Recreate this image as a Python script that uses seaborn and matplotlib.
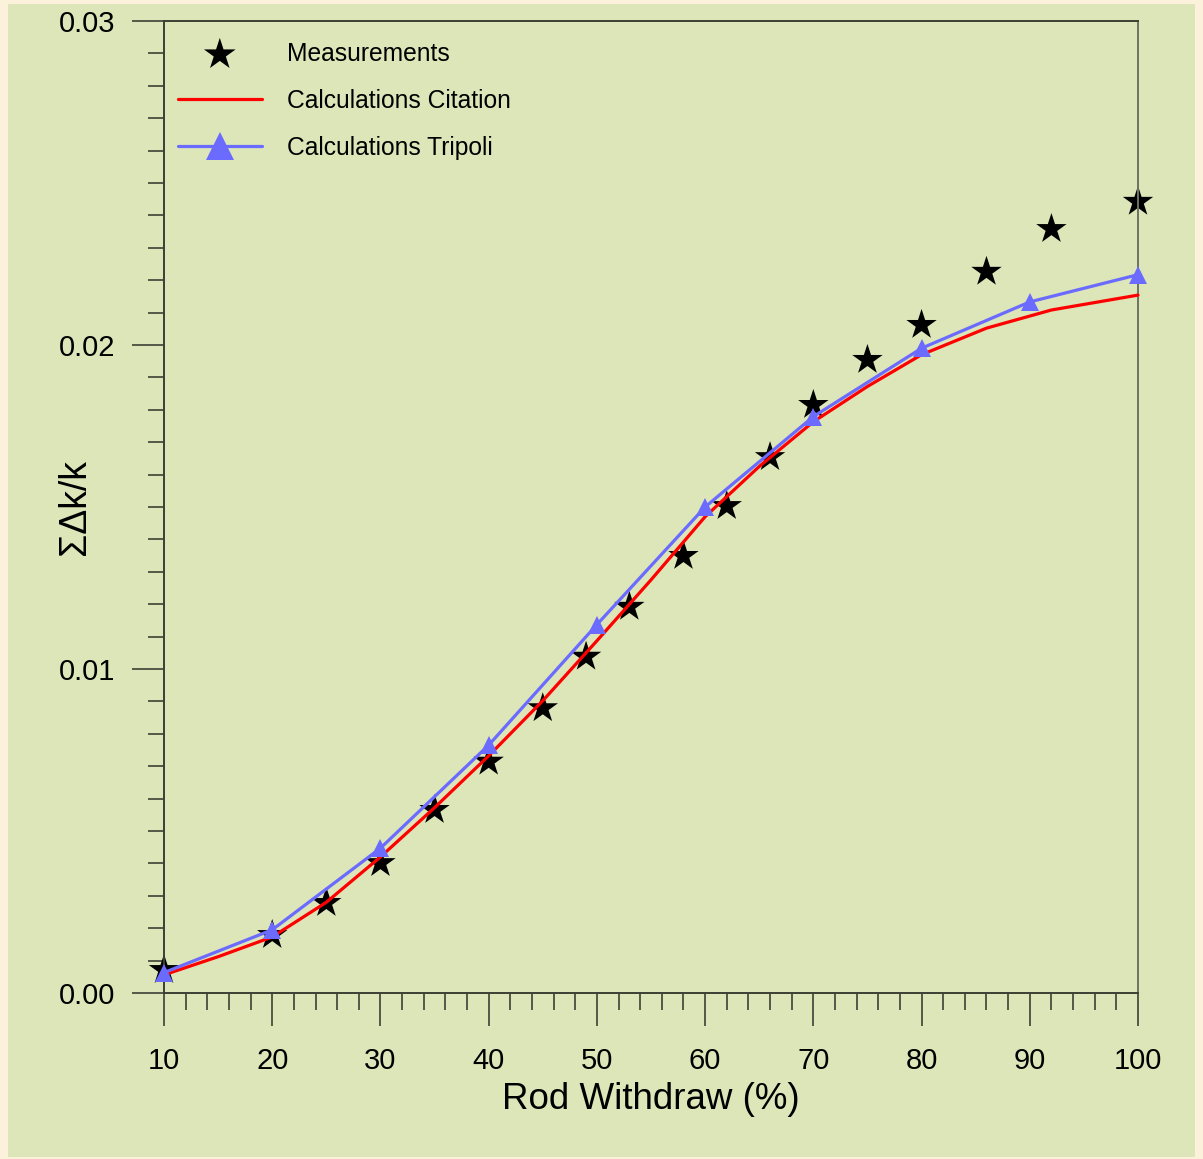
import matplotlib
matplotlib.use("Agg")
import matplotlib.pyplot as plt
import matplotlib.patches as mpatches
from matplotlib.ticker import MultipleLocator, FormatStrFormatter
import seaborn as sns
import pandas as pd

# ---- data ----
meas_x = [10, 20, 25, 30, 35, 40, 45, 49, 53, 58, 62, 66, 70, 75, 80, 86, 92, 100]
meas_y = [0.00071, 0.00179, 0.00278, 0.00401, 0.00565, 0.00714, 0.00879, 0.01038,
          0.01192, 0.01349, 0.01503, 0.01654, 0.01815, 0.01954, 0.02062, 0.02226,
          0.02358, 0.02442]

citation_x = [10, 15, 20, 25, 30, 35, 40, 45, 50, 55, 60, 65, 70, 75, 80, 86, 92, 100]
citation_y = [0.00056, 0.00112, 0.00173, 0.00280, 0.00420, 0.00572, 0.00732, 0.00902,
              0.01087, 0.01275, 0.01470, 0.01625, 0.01763, 0.01872, 0.01970, 0.02052,
              0.02108, 0.02154]

tripoli_x = [10, 20, 30, 40, 50, 60, 70, 80, 90, 100]
tripoli_y = [0.00063, 0.00195, 0.00447, 0.00765, 0.01137, 0.01500, 0.01779, 0.01990,
             0.02133, 0.02217]

labels = ["Measurements", "Calculations Citation", "Calculations Tripoli"]

df_meas = pd.DataFrame({"x": meas_x, "y": meas_y})
df_cit = pd.DataFrame({"x": citation_x, "y": citation_y})
df_tri = pd.DataFrame({"x": tripoli_x, "y": tripoli_y})

# ---- style ----
sns.set_style("ticks")
plt.rcParams["font.family"] = ["Liberation Sans", "DejaVu Sans"]
plt.rcParams["text.color"] = "black"
plt.rcParams["axes.labelcolor"] = "black"
plt.rcParams["xtick.labelcolor"] = "black"
plt.rcParams["ytick.labelcolor"] = "black"

GREEN = "#DCE6B8"
BORDER = "#FCF2DC"
AXC = "#3c4034"

fig = plt.figure(figsize=(12.03, 11.59), dpi=100, facecolor=BORDER)
fig.patches.append(mpatches.Rectangle((8 / 1203, 2 / 1159), 1187 / 1203, 1153 / 1159,
                                      transform=fig.transFigure, facecolor=GREEN,
                                      edgecolor="none", zorder=-10))
ax = fig.add_axes([164 / 1203, 1 - 993 / 1159, (1138 - 164) / 1203, (993 - 21) / 1159])
ax.set_zorder(5)
ax.set_facecolor(GREEN)

sns.scatterplot(data=df_meas, x="x", y="y", ax=ax, marker="*", s=23 ** 2, color="black",
                edgecolor="none", linewidth=0, label=labels[0], zorder=2, clip_on=False)
sns.lineplot(data=df_cit, x="x", y="y", ax=ax, color="#FF0000", linewidth=2.3,
             label=labels[1], zorder=3, clip_on=False)
sns.lineplot(data=df_tri, x="x", y="y", ax=ax, color="#6B6BFF", linewidth=2.3,
             marker="^", markersize=13, markeredgewidth=0, label=labels[2],
             zorder=4, clip_on=False)

ax.set_xlim(10, 100)
ax.set_ylim(0, 0.03)
ax.xaxis.set_major_locator(MultipleLocator(10))
ax.xaxis.set_minor_locator(MultipleLocator(2))
ax.yaxis.set_major_locator(MultipleLocator(0.01))
ax.yaxis.set_minor_locator(MultipleLocator(0.001))
ax.yaxis.set_major_formatter(FormatStrFormatter("%.2f"))

for side in ["left", "right", "top", "bottom"]:
    ax.spines[side].set_visible(True)
    ax.spines[side].set_color(AXC)
    ax.spines[side].set_linewidth(1.4)
ax.spines["right"].set_color("#6e7364")

ax.tick_params(axis="y", which="major", direction="out", length=23, width=1.2,
               color=AXC, labelsize=21, pad=12)
ax.tick_params(axis="y", which="minor", direction="out", length=11.5, width=1.2, color=AXC)
ax.tick_params(axis="x", which="major", direction="out", length=24, width=1.2,
               color=AXC, labelsize=21, pad=15)
ax.tick_params(axis="x", which="minor", direction="out", length=12, width=1.2, color=AXC)

ax.set_xlabel("Rod Withdraw (%)", fontsize=26.5, labelpad=5)
ax.set_ylabel("ΣΔk/k", fontsize=27)
ax.yaxis.set_label_coords((93 - 164) / 974, 0.5)

leg = ax.legend(loc="upper left", bbox_to_anchor=((178 - 164) / 974, 1 - (55 - 21 - 13) / 972),
                frameon=False, fontsize=17.7, handlelength=3.4, handletextpad=1.05,
                labelspacing=0.93, borderaxespad=0, borderpad=0, markerscale=1.6)
leg.legend_handles[0].set_sizes([24 ** 2])

fig.savefig("out.png", dpi=100, facecolor=BORDER)
